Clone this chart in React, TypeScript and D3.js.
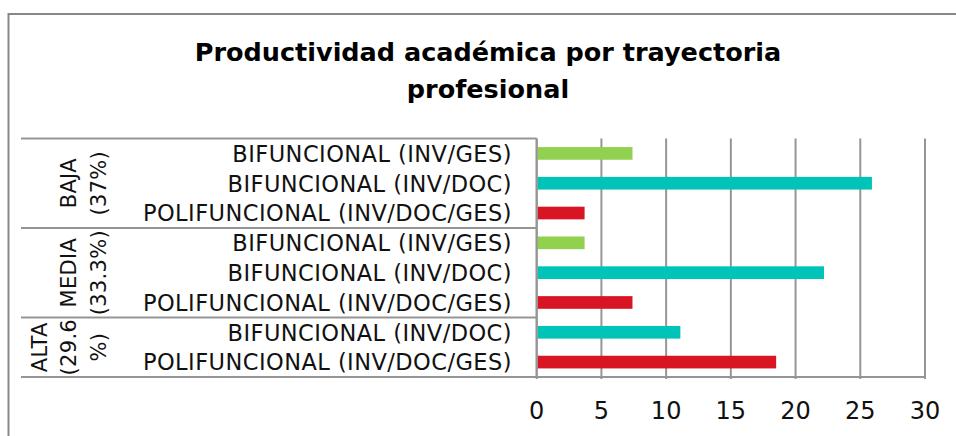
import React from "react";
import * as d3 from "d3";

const title = ["Productividad académica por trayectoria", "profesional"];
const groupLines = [["BAJA", "(37%)"], ["MEDIA", "(33.3%)"], ["ALTA", "(29.6", "%)"]];
const categories = [
  "BIFUNCIONAL (INV/GES)",
  "BIFUNCIONAL (INV/DOC)",
  "POLIFUNCIONAL (INV/DOC/GES)",
  "BIFUNCIONAL (INV/GES)",
  "BIFUNCIONAL (INV/DOC)",
  "POLIFUNCIONAL (INV/DOC/GES)",
  "BIFUNCIONAL (INV/DOC)",
  "POLIFUNCIONAL (INV/DOC/GES)",
];
const categoryGroup = [0, 0, 0, 1, 1, 1, 2, 2];
const seriesKind = ["GES", "DOC", "POLI", "GES", "DOC", "POLI", "DOC", "POLI"];
const values = [7.4, 25.9, 3.7, 3.7, 22.2, 7.4, 11.1, 18.5];
const ticks = [0, 5, 10, 15, 20, 25, 30];

const colors: Record<string, string> = { GES: "#92d050", DOC: "#00c4b8", POLI: "#d91524" };
const FONT = "'DejaVu Sans', sans-serif";
const GRID = "#959595";

export default function App() {
  const W = 956, H = 436;
  const x0 = 536.7, x1 = 925, top = 138.5, bottom = 377, labelLeft = 21;
  const ids = categories.map((_, i) => String(i));
  const x = d3.scaleLinear().domain([0, 30]).range([x0, x1]);
  const y = d3.scaleBand().domain(ids).range([top, bottom]).paddingInner(0.575).paddingOuter(0.2875);
  const step = y.step();

  const groups = groupLines.map((lines, g) => {
    const idx = categoryGroup.map((v, i) => (v === g ? i : -1)).filter((i) => i >= 0);
    const gTop = top + step * idx[0];
    const gBot = top + step * (idx[idx.length - 1] + 1);
    return { lines, gTop, gBot };
  });

  return (
    <svg width={W} height={H} style={{ position: "absolute", left: 0, top: 0 }}>
      <rect x={0} y={0} width={W} height={H} fill="#fff" />
      <rect x={8.5} y={14} width={1000} height={1000} fill="none" stroke="#888" strokeWidth={2} />
      {title.map((t, i) => (
        <text key={i} x={488} y={61 + i * 37} textAnchor="middle" fontFamily={FONT} fontWeight="bold" fontSize={25.5} fill="#000">
          {t}
        </text>
      ))}
      {/* gridlines */}
      {ticks.map((t) => (
        <line key={t} x1={x(t)} x2={x(t)} y1={top} y2={bottom + 2} stroke={GRID} strokeWidth={2} />
      ))}
      {/* bars */}
      {values.map((v, i) => (
        <rect key={i} x={x(0) + 1} y={y(ids[i])!} width={x(v) - x(0) - 1} height={y.bandwidth()} fill={colors[seriesKind[i]]} />
      ))}
      {/* category axis lines */}
      <line x1={x0} x2={x0} y1={top} y2={bottom} stroke={GRID} strokeWidth={2} />
      <line x1={labelLeft} x2={x1 + 1} y1={bottom} y2={bottom} stroke={GRID} strokeWidth={2} />
      {groups.map((g, gi) => (
        <line key={gi} x1={labelLeft} x2={x0} y1={g.gTop} y2={g.gTop} stroke={GRID} strokeWidth={2} />
      ))}
      {/* category labels */}
      {categories.map((c, i) => (
        <text key={i} x={512} y={y(ids[i])! + y.bandwidth() / 2 + 8.3} textAnchor="end" fontFamily={FONT} fontSize={22.5} letterSpacing={0.45} fill="#111">
          {c}
        </text>
      ))}
      {/* group labels */}
      {groups.map((g, gi) => {
        const cy = (g.gTop + g.gBot) / 2;
        const n = g.lines.length;
        return g.lines.map((l, li) => {
          const cx = 98 - (n - 1 - li) * 29.5;
          const bx = cx + 7.5;
          return (
            <text key={gi + "-" + li} x={bx} y={cy} transform={`rotate(-90 ${bx} ${cy})`} textAnchor="middle" fontFamily={FONT} fontSize={21} letterSpacing={0.3} fill="#111">
              {l}
            </text>
          );
        });
      })}
      {/* value tick labels */}
      {ticks.map((t) => (
        <text key={t} x={x(t)} y={419} textAnchor="middle" fontFamily={FONT} fontSize={24} fill="#111">
          {t}
        </text>
      ))}
    </svg>
  );
}
